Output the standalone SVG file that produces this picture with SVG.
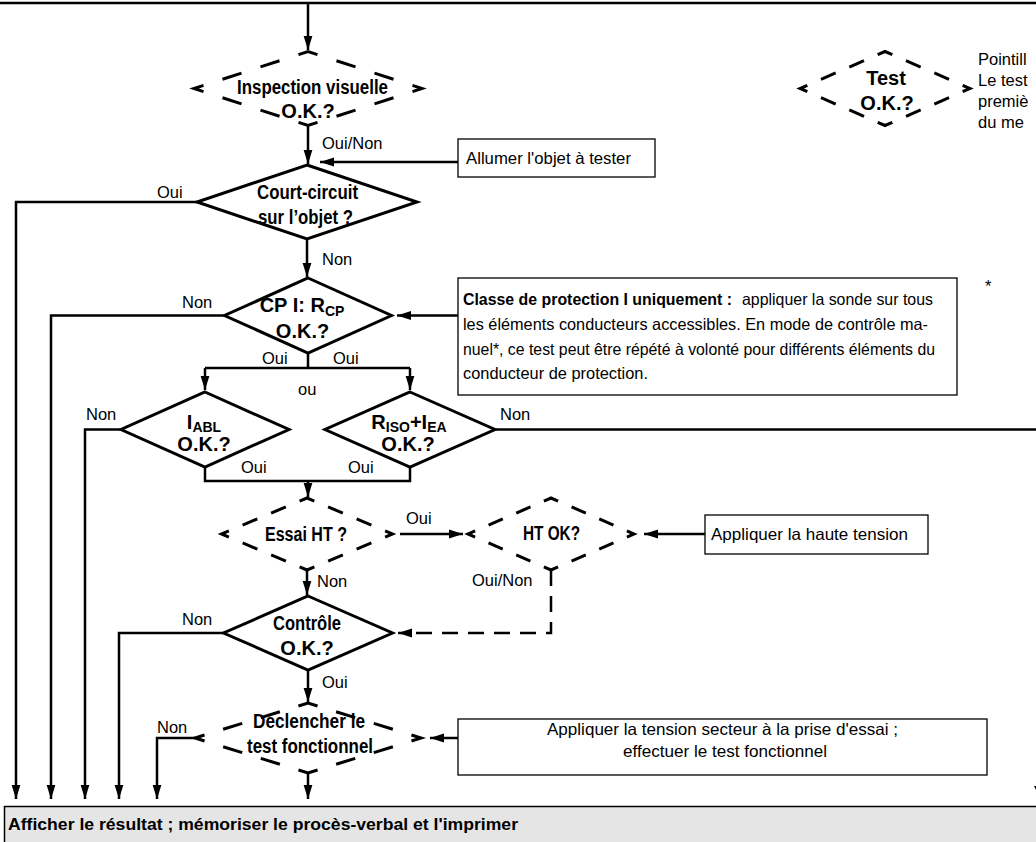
<svg xmlns="http://www.w3.org/2000/svg" width="1036" height="842" viewBox="0 0 1036 842">
<defs>
<marker id="ah" viewBox="0 0 14 10" refX="14" refY="5" markerWidth="14" markerHeight="10" markerUnits="userSpaceOnUse" orient="auto"><path d="M0,0.6 L14,5 L0,9.4 Z" fill="#000"/></marker>
<style>
.lbl{font-family:"Liberation Sans",Arial,sans-serif;font-size:16.5px;fill:#000}
.b{font-family:"Liberation Sans Narrow","Liberation Sans",Arial,sans-serif;font-weight:bold;font-size:20px;text-anchor:middle;fill:#000}
.bt{font-family:"Liberation Sans Narrow","Liberation Sans",Arial,sans-serif;font-weight:bold;font-size:16.5px;fill:#000}
.sd{fill:#fff;stroke:#000;stroke-width:3;stroke-linejoin:miter}
.dd{fill:none;stroke:#000;stroke-width:3;stroke-linejoin:miter}
.box{fill:#fff;stroke:#000;stroke-width:1.3}
.ln{fill:none;stroke:#000;stroke-width:2.5}
.arr{marker-end:url(#ah)}
.dl{stroke-dasharray:16 10}
</style>
</defs>
<rect width="1036" height="842" fill="#fff"/>

<g id="connectors">
<path class="ln" d="M0,3 H1036" stroke-width="2.2"/>
<path class="ln arr" d="M308,3 V50"/>
<path class="ln arr" d="M308,125.5 V164"/>
<path class="ln arr" d="M458,162 H320"/>
<path class="ln arr" d="M197,202 H16 V799"/>
<path class="ln arr" d="M307,239 V277"/>
<path class="ln arr" d="M458,315.5 H397"/>
<path class="ln arr" d="M224.5,315.5 H51 V799"/>
<path class="ln" d="M308,353 V368 M205,368 H410"/>
<path class="ln arr" d="M205,368 V390"/>
<path class="ln arr" d="M410,368 V390"/>
<path class="ln arr" d="M121,429.5 H85 V799"/>
<path class="ln" d="M495,429.5 H1036"/>
<path class="ln" d="M205,467 V481 H410 V467"/>
<path class="ln arr" d="M308,481 V497"/>
<path class="ln arr" d="M400,534 H463"/>
<path class="ln arr" d="M705,534 H644"/>
<path class="ln arr" d="M307,570 V595"/>
<path class="ln arr dl" d="M551,570 V633 H398"/>
<path class="ln arr" d="M223.5,633 H119 V799"/>
<path class="ln arr" d="M308,670 V702"/>
<path class="ln arr" d="M195,738 H157 V799"/>
<path class="ln arr" d="M308,773 V799"/>
<path class="ln arr" d="M458,738 H430"/>
<path d="M1034,786 L1046,786 L1040,798 Z" fill="#000"/>
</g>

<g id="n-inspection">
<path class="dd" d="M365,70 L422,88.5 L308,125.5 L194,88.5 L308,51.5 Z" stroke-dasharray="20 19.95" stroke-dashoffset="29.98"/>
<text class="b" x="312.5" y="94" textLength="151" lengthAdjust="spacingAndGlyphs">Inspection visuelle</text>
<text class="b" x="308" y="118">O.K.?</text>
</g>

<g id="n-test-legend">
<path class="dd" d="M927.5,70 L970,88.5 L885,125.5 L800,88.5 L885,51.5 Z" stroke-dasharray="16 14.9" stroke-dashoffset="23.45"/>
<text class="b" x="886" y="85">Test</text>
<text class="b" x="887" y="110">O.K.?</text>
</g>

<g id="n-legend-text">
<text class="lbl" x="978" y="65" font-size="17.5">Pointill</text>
<text class="lbl" x="978" y="86" font-size="17.5">Le test</text>
<text class="lbl" x="978" y="107" font-size="17.5">premiè</text>
<text class="lbl" x="978" y="128" font-size="17.5">du me</text>
</g>

<g id="n-allumer">
<rect class="box" x="458" y="139" width="197" height="38"/>
<text class="lbl" x="466" y="164" textLength="165" lengthAdjust="spacingAndGlyphs">Allumer l'objet à tester</text>
</g>

<g id="n-court-circuit">
<path class="sd" d="M307,165 L417,202 L307,239 L197,202 Z"/>
<text class="b" x="307.5" y="199" textLength="101" lengthAdjust="spacingAndGlyphs">Court-circuit</text>
<text class="b" x="305.5" y="224" textLength="95" lengthAdjust="spacingAndGlyphs">sur l’objet ?</text>
</g>

<g id="n-cp">
<path class="sd" d="M308,278 L391.5,315.5 L308,353 L224.5,315.5 Z"/>
<text class="b" x="302" y="312">CP I: R<tspan font-size="14" dy="4">CP</tspan></text>
<text class="b" x="302.5" y="338">O.K.?</text>
</g>

<g id="n-classe">
<rect class="box" x="458" y="278" width="499" height="117"/>
<text class="bt" x="463" y="305" textLength="269" lengthAdjust="spacingAndGlyphs">Classe de protection I uniquement :</text>
<text class="lbl" x="742" y="305" textLength="191" lengthAdjust="spacingAndGlyphs">appliquer la sonde sur tous</text>
<text class="lbl" x="463" y="330" textLength="465" lengthAdjust="spacingAndGlyphs">les éléments conducteurs accessibles. En mode de contrôle ma-</text>
<text class="lbl" x="463" y="355" textLength="472" lengthAdjust="spacingAndGlyphs">nuel*, ce test peut être répété à volonté pour différents éléments du</text>
<text class="lbl" x="463" y="379" textLength="185" lengthAdjust="spacingAndGlyphs">conducteur de protection.</text>
</g>

<g id="n-footnote">
<text class="lbl" x="985" y="292" font-size="13">*</text>
</g>

<g id="n-iabl">
<path class="sd" d="M205,392 L289,429.5 L205,467 L121,429.5 Z"/>
<text class="b" x="204" y="429">I<tspan font-size="14" dy="3">ABL</tspan></text>
<text class="b" x="204" y="451">O.K.?</text>
</g>

<g id="n-riso">
<path class="sd" d="M410,392 L495,429.5 L410,467 L325,429.5 Z"/>
<text class="b" x="409" y="429">R<tspan font-size="14" dy="3">ISO</tspan><tspan dy="-3">+I</tspan><tspan font-size="14" dy="3">EA</tspan></text>
<text class="b" x="408" y="451">O.K.?</text>
</g>

<g id="n-essai">
<path class="dd" d="M349.75,516 L392.5,534 L307,570 L221.5,534 L307,498 Z" stroke-dasharray="16 14.92" stroke-dashoffset="23.46"/>
<text class="b" x="306" y="541" textLength="82" lengthAdjust="spacingAndGlyphs">Essai HT ?</text>
</g>

<g id="n-htok">
<path class="dd" d="M592.5,516 L634,534 L551,570 L468,534 L551,498 Z" stroke-dasharray="15.5 14.66" stroke-dashoffset="22.83"/>
<text class="b" x="551.5" y="540" textLength="57" lengthAdjust="spacingAndGlyphs">HT OK?</text>
</g>

<g id="n-haute-tension">
<rect class="box" x="705" y="515" width="223" height="39"/>
<text class="lbl" x="711" y="540" textLength="197" lengthAdjust="spacingAndGlyphs">Appliquer la haute tension</text>
</g>

<g id="n-controle">
<path class="sd" d="M308,596 L392.5,633 L308,670 L223.5,633 Z"/>
<text class="b" x="307" y="630" textLength="68" lengthAdjust="spacingAndGlyphs">Contrôle</text>
<text class="b" x="307" y="655">O.K.?</text>
</g>

<g id="n-declencher">
<path class="dd" d="M364.5,720.5 L421,738 L308,773 L195,738 L308,703 Z" stroke-dasharray="20 19.43" stroke-dashoffset="29.72"/>
<text class="b" x="309" y="728" textLength="112" lengthAdjust="spacingAndGlyphs">Déclencher le</text>
<text class="b" x="310" y="753" textLength="126" lengthAdjust="spacingAndGlyphs">test fonctionnel</text>
</g>

<g id="n-secteur">
<rect class="box" x="458" y="719" width="529" height="56"/>
<text class="lbl" x="722.5" y="735" text-anchor="middle" textLength="351" lengthAdjust="spacingAndGlyphs">Appliquer la tension secteur à la prise d'essai ;</text>
<text class="lbl" x="725" y="757" text-anchor="middle" textLength="204" lengthAdjust="spacingAndGlyphs">effectuer le test fonctionnel</text>
</g>

<g id="n-resultat">
<rect x="4.5" y="806.5" width="1040" height="40" fill="#e5e5e5" stroke="#000" stroke-width="1.5"/>
<text class="bt" x="8" y="830" font-size="19" textLength="510" lengthAdjust="spacingAndGlyphs">Afficher le résultat ; mémoriser le procès-verbal et l'imprimer</text>
</g>

<g id="labels">
<text class="lbl" x="322" y="149">Oui/Non</text>
<text class="lbl" x="157" y="198">Oui</text>
<text class="lbl" x="322" y="265">Non</text>
<text class="lbl" x="182" y="308">Non</text>
<text class="lbl" x="262" y="364">Oui</text>
<text class="lbl" x="333" y="364">Oui</text>
<text class="lbl" x="298" y="395">ou</text>
<text class="lbl" x="86" y="420">Non</text>
<text class="lbl" x="500" y="420">Non</text>
<text class="lbl" x="241" y="473">Oui</text>
<text class="lbl" x="348" y="473">Oui</text>
<text class="lbl" x="406" y="524">Oui</text>
<text class="lbl" x="317" y="587">Non</text>
<text class="lbl" x="472" y="586">Oui/Non</text>
<text class="lbl" x="182" y="625">Non</text>
<text class="lbl" x="322" y="688">Oui</text>
<text class="lbl" x="157" y="733">Non</text>
</g>
</svg>
